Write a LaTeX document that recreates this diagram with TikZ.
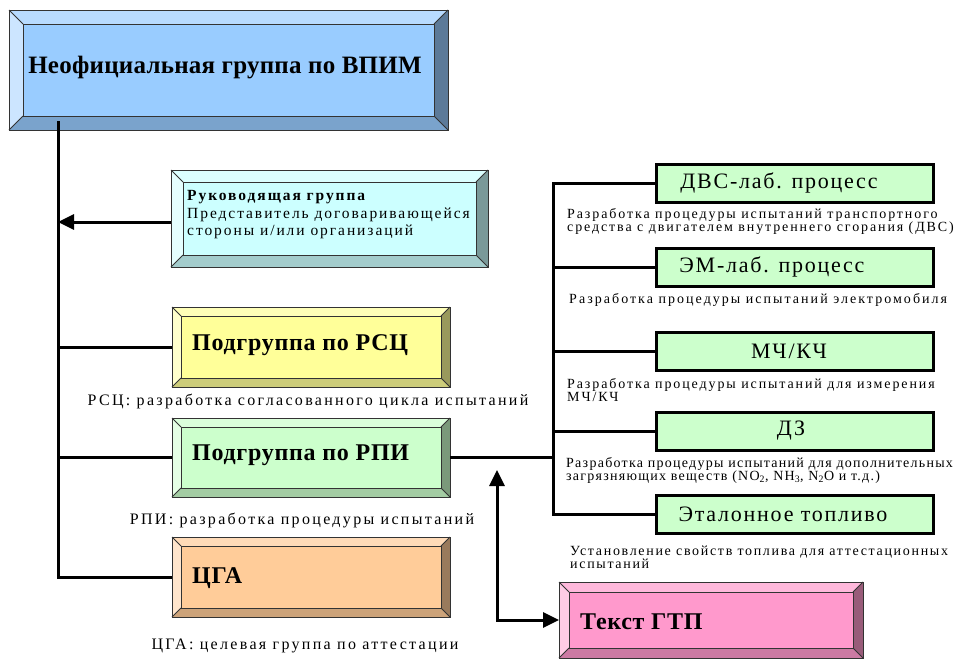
\documentclass[tikz,border=0pt]{standalone}
\usepackage{fontspec}
\setmainfont{Liberation Serif}
\newfontfamily\lsT[LetterSpace=1]{Liberation Serif}
\newfontfamily\lsA[LetterSpace=3]{Liberation Serif}
\newfontfamily\lsB[LetterSpace=12.5]{Liberation Serif}
\newfontfamily\lsL[LetterSpace=14.5]{Liberation Serif}
\newfontfamily\lsD[LetterSpace=13.5]{Liberation Serif}
\newfontfamily\lsW[LetterSpace=14.5]{Liberation Serif}
\newfontfamily\lsE[LetterSpace=9]{Liberation Serif}
\newfontfamily\lsF[LetterSpace=12]{Liberation Serif}
\newfontfamily\lsC[LetterSpace=8]{Liberation Serif}
\usetikzlibrary{arrows.meta}
\definecolor{cTop}{HTML}{99CCFF}
\definecolor{cGuide}{HTML}{CCFFFF}
\definecolor{cRsc}{HTML}{FFFF99}
\definecolor{cRpi}{HTML}{CCFFCC}
\definecolor{cCga}{HTML}{FFCC99}
\definecolor{cGtp}{HTML}{FF99CC}
\definecolor{cRight}{HTML}{CCFFCC}
\newcommand\bevbox[7]{%
 \node[inner sep=0pt, outer sep=0pt, minimum width={#4-#2}, minimum height={#5-#3}] (#1) at ({(#2+#4)/2},{(#3+#5)/2}) {};
 \fill[#7!70!white] (#2,#3) -- (#4,#3) -- ({#4-#6},{#3+#6}) -- ({#2+#6},{#3+#6}) -- cycle;
 \fill[#7!50!white] (#2,#3) -- ({#2+#6},{#3+#6}) -- ({#2+#6},{#5-#6}) -- (#2,#5) -- cycle;
 \fill[#7!60!black] (#4,#3) -- ({#4-#6},{#3+#6}) -- ({#4-#6},{#5-#6}) -- (#4,#5) -- cycle;
 \fill[#7!80!black] (#2,#5) -- ({#2+#6},{#5-#6}) -- ({#4-#6},{#5-#6}) -- (#4,#5) -- cycle;
 \fill[#7] ({#2+#6},{#3+#6}) rectangle ({#4-#6},{#5-#6});
 \draw[outl] (#2,#3) rectangle (#4,#5);
 \draw[outl] ({#2+#6},{#3+#6}) rectangle ({#4-#6},{#5-#6});
 \draw[outl] (#2,#3) -- ({#2+#6},{#3+#6}) (#4,#3) -- ({#4-#6},{#3+#6})
   (#2,#5) -- ({#2+#6},{#5-#6}) (#4,#5) -- ({#4-#6},{#5-#6});
}
\begin{document}
\begin{tikzpicture}[x=1pt,y=-1pt,
  outl/.style={draw=black!80, line width=0.8pt},
  conn/.style={draw=black, line width=3pt},
  arr/.style={conn, -{Triangle[length=16pt,width=15pt]}},
  dblarr/.style={conn, {Triangle[length=16pt,width=15pt]}-{Triangle[length=16pt,width=15pt]}},
  rbox/.style={draw=black, line width=3pt, fill=cRight, inner sep=0pt, minimum width=277, minimum height=38},
  ttl/.style={font=\lsT\bfseries\fontsize{25}{28}\selectfont, inner sep=0pt},
  sub/.style={font=\lsA\bfseries\fontsize{24}{28}\selectfont, inner sep=0pt, anchor=west},
  guidetxt/.style={font=\lsB\fontsize{15.5}{17.5}\selectfont, inner sep=0pt, anchor=west, align=left},
  lbl/.style={font=\lsL\fontsize{16}{18}\selectfont, inner sep=0pt},
  desc/.style={font=\lsD\fontsize{14}{13}\selectfont, inner sep=0pt, anchor=west, align=left},
  rtxt/.style={font=\lsC\fontsize{22}{24}\selectfont, inner sep=0pt}]
\useasboundingbox (0,0) rectangle (959,659);
\fill[white] (0,0) rectangle (959,659);

% left-hand bevelled boxes
\bevbox{top}{9}{10}{448}{130}{14}{cTop}
\bevbox{guide}{171}{170}{488}{267}{12}{cGuide}
\bevbox{rsc}{172}{307}{450}{387}{9}{cRsc}
\bevbox{rpi}{172}{418}{450}{497}{9}{cRpi}
\bevbox{cga}{172}{537}{450}{617}{9}{cCga}
\bevbox{gtp}{559}{582}{863}{658}{10}{cGtp}

\node[ttl] (topT) at (225,68) {Неофициальная группа по ВПИМ};
\node[guidetxt] (guideT) at (187,215) {\textbf{Руководящая группа}\\Представитель договаривающейся\\стороны и/или организаций};
\node[sub] (rscT) at (192,345) {Подгруппа по РСЦ};
\node[sub] (rpiT) at (192,455) {Подгруппа по РПИ};
\node[sub] (cgaT) at (192,578) {ЦГА};
\node[sub] (gtpT) at (580,622) {Текст ГТП};

\node[lbl] (rscL) at (308,401) {РСЦ: разработка согласованного цикла испытаний};
\node[lbl] (rpiL) at (302,520) {РПИ: разработка процедуры испытаний};
\node[lbl] (cgaL) at (305,646) {ЦГА: целевая группа по аттестации};

% right-hand boxes
\node[rbox] (dvs) at (795,183) {};
\node[rbox] (em) at (795,267) {};
\node[rbox] (pm) at (795,351) {};
\node[rbox] (dz) at (795,431) {};
\node[rbox] (fuel) at (795,514) {};
\node[rtxt] (dvsT) at (779,183) {ДВС-лаб. процесс};
\node[rtxt] (emT) at (772,267) {ЭМ-лаб. процесс};
\node[rtxt] (pmT) at (789,351) {МЧ/КЧ};
\node[rtxt] (dzT) at (791,431) {ДЗ};
\node[rtxt] (fuelT) at (783,514) {Эталонное топливо};

\node[desc] (dvsD) at (567,221.5) {Разработка процедуры испытаний транспортного\\средства с двигателем внутреннего сгорания (ДВС)};
\node[desc, font=\lsW\fontsize{14}{13}\selectfont] (emD) at (569,300) {Разработка процедуры испытаний электромобиля};
\node[desc] (pmD) at (567,390.5) {Разработка процедуры испытаний для измерения\\МЧ/КЧ};
\node[desc, font=\lsE\fontsize{14}{13}\selectfont] (dzD) at (566,470) {Разработка процедуры испытаний для дополнительных\\загрязняющих веществ (NO\textsubscript{2}, NH\textsubscript{3}, N\textsubscript{2}O и т.д.)};
\node[desc, font=\lsF\fontsize{14}{13}\selectfont] (fuelD) at (570,557) {Установление свойств топлива для аттестационных\\испытаний};

% connectors, left bus
\coordinate (busTop) at (58,121);
\draw[conn] (busTop) |- (cga.west);
\draw[conn] (rsc.west) -- (rsc.west -| busTop);
\draw[conn] (rpi.west) -- (rpi.west -| busTop);
\draw[arr] ([yshift=-3.5pt]guide.west) -- ([yshift=-3.5pt]guide.west -| busTop);

% connectors, right bus
\coordinate (rbus) at (553,0);
\draw[conn] (dvs.west) -| (rbus |- fuel.west) -- (fuel.west);
\draw[conn] (em.west) -- (em.west -| rbus);
\draw[conn] (pm.west) -- (pm.west -| rbus);
\draw[conn] (dz.west) -- (dz.west -| rbus);
\draw[conn] (rpi.east) -- (rpi.east -| rbus);

% double arrow to GTP text
\coordinate (aTop) at (497,470);
\draw[dblarr] (aTop) |- (gtp.west);
\end{tikzpicture}
\end{document}
